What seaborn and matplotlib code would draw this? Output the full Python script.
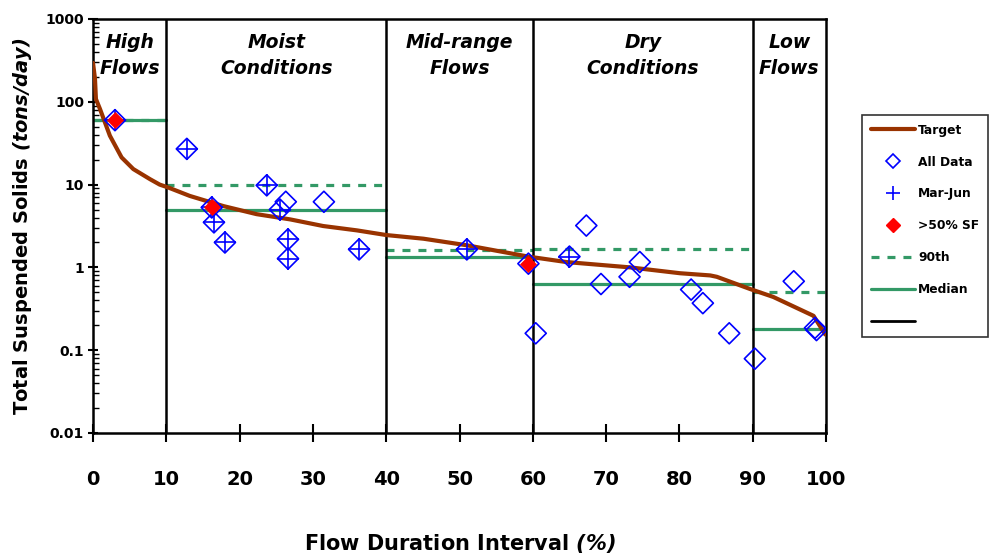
import numpy as np
import pandas as pd
import matplotlib
matplotlib.use("Agg")
import matplotlib.pyplot as plt
from matplotlib.lines import Line2D
import seaborn as sns

# ---------------- data ----------------
target_x = [0, 0.27, 0.4, 0.95, 2.3, 3.9, 5.5, 7.8, 9.1, 10.3, 13.2, 17.8, 22.3, 26.9,
            31.4, 36, 40, 45.1, 51, 59.4, 64.6, 73.3, 80.1, 84.2, 85.1, 89.6, 92.8, 98.3, 99.9]
target_y = [295, 190, 108, 82, 39, 21.3, 15.4, 11.6, 10, 9.2, 7.3, 5.5, 4.4, 3.8,
            3.16, 2.8, 2.46, 2.22, 1.85, 1.35, 1.16, 1.0, 0.85, 0.80, 0.77, 0.55, 0.44, 0.26, 0.155]

all_x = [3.0, 12.8, 16.2, 16.5, 18.0, 23.7, 25.5, 26.3, 26.6, 26.6, 31.5, 36.3, 51.0, 59.4,
         60.4, 65.0, 67.3, 69.3, 73.2, 74.6, 81.6, 83.2, 86.8, 90.3, 95.6, 98.5, 98.7]
all_y = [60, 27, 5.3, 3.5, 2.0, 9.8, 5.0, 6.2, 2.18, 1.28, 6.2, 1.65, 1.65, 1.11,
         0.16, 1.35, 3.2, 0.63, 0.77, 1.16, 0.54, 0.37, 0.16, 0.079, 0.68, 0.186, 0.175]

marjun_x = [3.0, 12.8, 16.2, 16.5, 18.0, 23.7, 25.5, 26.6, 26.6, 36.3, 51.0, 65.0]
marjun_y = [60, 27, 5.3, 3.5, 2.0, 9.8, 5.0, 2.18, 1.28, 1.65, 1.65, 1.35]

sf_x = [3.0, 16.2, 59.4]
sf_y = [60, 5.3, 1.11]

zone_edges = [0, 10, 40, 60, 90, 100]
zone_names = ["High\nFlows", "Moist\nConditions", "Mid-range\nFlows", "Dry\nConditions", "Low\nFlows"]
median_vals = [60, 5.0, 1.35, 0.63, 0.18]
p90_vals = [60, 9.8, 1.61, 1.68, 0.51]

x_ticks = [0, 10, 20, 30, 40, 50, 60, 70, 80, 90, 100]
y_ticks = [0.01, 0.1, 1, 10, 100, 1000]
y_ticklabels = ["0.01", "0.1", "1", "10", "100", "1000"]

# ---------------- style ----------------
sns.set_theme(style="white")
plt.rcParams["font.family"] = ["DejaVu Sans"]
plt.rcParams["font.weight"] = "bold"
plt.rcParams["mathtext.fontset"] = "dejavusans"
plt.rcParams["text.color"] = "black"
plt.rcParams["axes.labelcolor"] = "black"
plt.rcParams["xtick.color"] = "black"
plt.rcParams["ytick.color"] = "black"

BROWN = "#993300"
GREEN = "#339966"
BLUE = "#0000FF"
RED = "#FF0000"

fig = plt.figure(figsize=(9.9, 5.57), dpi=100)
ax = fig.add_axes([93 / 990, 1 - 433 / 557, (826 - 93) / 990, (433 - 19) / 557])

# median / 90th segments
for i in range(len(median_vals)):
    x0, x1 = zone_edges[i], zone_edges[i + 1]
    seg = pd.DataFrame({"x": [x0, x1], "y": [median_vals[i], median_vals[i]]})
    sns.lineplot(data=seg, x="x", y="y", ax=ax, color=GREEN, lw=2.3, zorder=2)
    seg90 = pd.DataFrame({"x": [x0, x1], "y": [p90_vals[i], p90_vals[i]]})
    sns.lineplot(data=seg90, x="x", y="y", ax=ax, color=GREEN, lw=2.3, zorder=2,
                 dashes=False, linestyle=(0, (2.5, 2.5)))

# zone dividers
for e in zone_edges[1:-1]:
    ax.axvline(e, color="black", lw=1.8, zorder=3)

# target curve
tdf = pd.DataFrame({"x": target_x, "y": target_y})
sns.lineplot(data=tdf, x="x", y="y", ax=ax, color=BROWN, lw=3.0, zorder=4, sort=False)

# points
adf = pd.DataFrame({"x": all_x, "y": all_y})
sns.scatterplot(data=adf, x="x", y="y", ax=ax, marker="D", s=115, facecolor="none",
                edgecolor=BLUE, linewidth=1.2, zorder=5)
mdf = pd.DataFrame({"x": marjun_x, "y": marjun_y})
sns.scatterplot(data=mdf, x="x", y="y", ax=ax, marker="+", s=240, color=BLUE,
                linewidth=1.2, zorder=6)
sdf = pd.DataFrame({"x": sf_x, "y": sf_y})
sns.scatterplot(data=sdf, x="x", y="y", ax=ax, marker="D", s=75, color=RED,
                edgecolor=RED, linewidth=0, zorder=7)

# zone labels
for i, name in enumerate(zone_names):
    xc = (zone_edges[i] + zone_edges[i + 1]) / 2
    ax.text(xc, 0.912, name, transform=ax.get_xaxis_transform(), ha="center", va="center",
            fontsize=13.5, fontweight="bold", fontstyle="italic", linespacing=1.5, zorder=8)

# axes
ax.set_yscale("log")
ax.set_xlim(0, 100)
ax.set_ylim(0.01, 1000)
ax.set_xticks(x_ticks)
ax.set_xticklabels([str(t) for t in x_ticks], fontsize=14, fontweight="bold")
ax.set_yticks(y_ticks)
ax.set_yticklabels(y_ticklabels, fontsize=10, fontweight="bold")
ax.yaxis.set_minor_locator(matplotlib.ticker.LogLocator(base=10, subs=np.arange(2, 10)))
ax.yaxis.set_minor_formatter(matplotlib.ticker.NullFormatter())
ax.tick_params(axis="x", which="major", direction="inout", length=13, width=1.5,
               pad=20, bottom=True)
ax.tick_params(axis="y", which="major", direction="inout", length=7, width=1.5,
               pad=3, left=True)
ax.tick_params(axis="y", which="minor", direction="in", length=4, width=1.0, left=True)
for sp in ax.spines.values():
    sp.set_color("black")
    sp.set_linewidth(1.8)

ax.set_xlabel(r"Flow Duration Interval $\mathbfit{(\%)}$", fontsize=15, fontweight="bold",
              labelpad=31)
ax.set_ylabel(r"Total Suspended Solids $\mathbfit{(tons/day)}$", fontsize=14,
              fontweight="bold", labelpad=8)

# legend
handles = [
    Line2D([], [], color=BROWN, lw=3.0),
    Line2D([], [], ls="none", marker="D", ms=7, mfc="none", mec=BLUE, mew=1.2),
    Line2D([], [], ls="none", marker="+", ms=10, color=BLUE, mew=1.2),
    Line2D([], [], ls="none", marker="D", ms=7.5, color=RED),
    Line2D([], [], color=GREEN, lw=2.3, ls=(0, (2.5, 2.5))),
    Line2D([], [], color=GREEN, lw=2.3),
    Line2D([], [], color="black", lw=2.0),
]
labels = ["Target", "All Data", "Mar-Jun", ">50% SF", "90th", "Median", ""]
leg = fig.legend(handles, labels, loc="upper left", bbox_to_anchor=(862 / 990, 1 - 115 / 557),
                 frameon=True, fancybox=False, edgecolor="black", fontsize=8.8,
                 handlelength=3.6, handletextpad=0.3, labelspacing=1.55, borderpad=0.7,
                 borderaxespad=0)
leg.get_frame().set_linewidth(1.2)
for t in leg.get_texts():
    t.set_fontweight("bold")
    t.set_color("black")

fig.savefig("out.png", dpi=100)
